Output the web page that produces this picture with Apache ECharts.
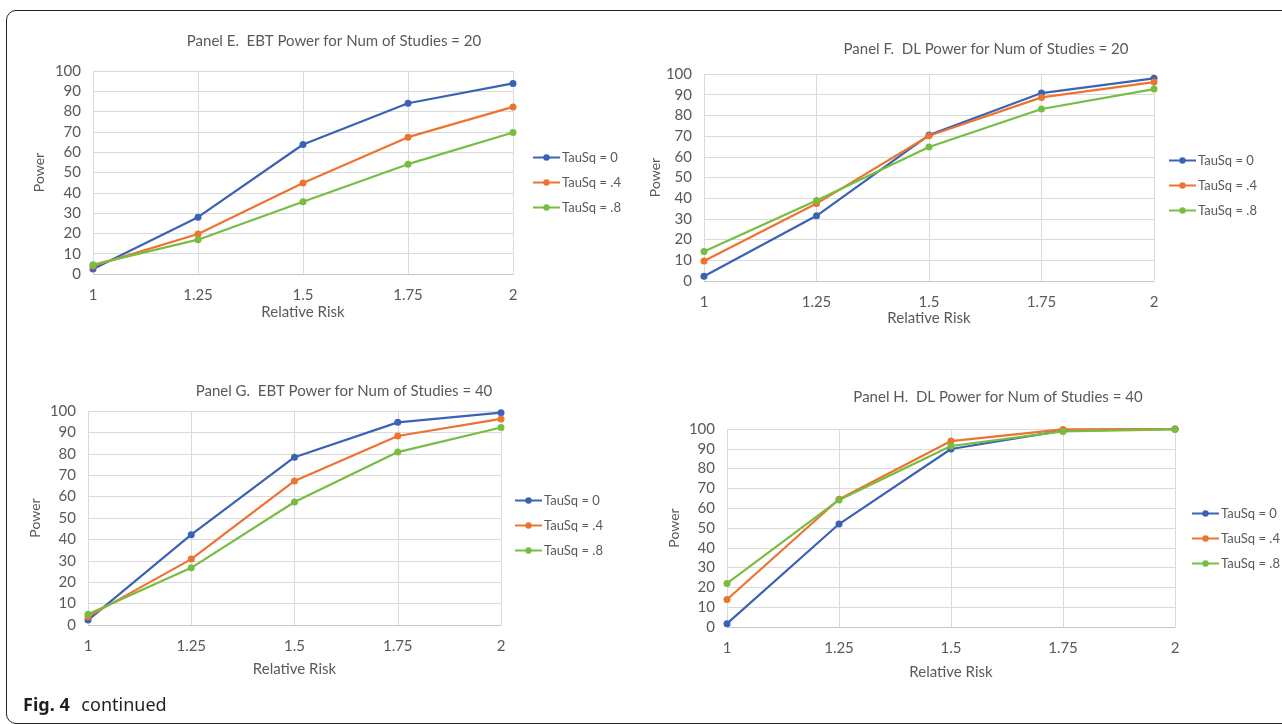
<!DOCTYPE html>
<html>
<head>
<meta charset="utf-8">
<script src="https://cdn.jsdelivr.net/npm/echarts@6/dist/echarts.min.js"></script>
<style>
  html, body { margin: 0; padding: 0; background: #fff; overflow: hidden; }
  #frame {
    position: absolute; left: 6px; top: 10px; width: 1320px; height: 714px;
    border: 1.5px solid #222; border-radius: 10px; box-sizing: border-box;
  }
  #chart { position: absolute; left: 0; top: 0; width: 1282px; height: 724px; }
  #caption {
    position: absolute; left: 23px; top: 692px; font-family: "Noto Sans", sans-serif;
    font-size: 18px; color: #231f20; line-height: 24px;
  }
  #caption b { font-weight: 700; margin-right: 7px; }
</style>
</head>
<body>
<div id="frame"></div>
<div id="chart"></div>
<div id="caption"><b>Fig. 4</b> continued</div>
<script>
// categories (relative risk) and series names
const relRisk = ['1', '1.25', '1.5', '1.75', '2'];
const seriesNames = ['TauSq = 0', 'TauSq = .4', 'TauSq = .8'];
const powerTicks = [0, 100, 10]; // min, max, step

// Panel E: EBT, 20 studies
const ebt20_tau0 = [2.5, 28.0, 63.8, 84.1, 93.9];
const ebt20_tau4 = [4.0, 19.7, 44.8, 67.4, 82.3];
const ebt20_tau8 = [4.6, 16.9, 35.6, 54.1, 69.7];
// Panel F: DL, 20 studies
const dl20_tau0 = [2.3, 31.5, 70.5, 90.8, 97.9];
const dl20_tau4 = [9.7, 37.4, 70.2, 88.7, 96.1];
const dl20_tau8 = [14.2, 38.9, 64.7, 83.1, 92.7];
// Panel G: EBT, 40 studies
const ebt40_tau0 = [2.3, 42.2, 78.4, 94.7, 99.2];
const ebt40_tau4 = [3.9, 30.8, 67.3, 88.3, 96.3];
const ebt40_tau8 = [5.0, 26.7, 57.5, 80.8, 92.3];
// Panel H: DL, 40 studies
const dl40_tau0 = [1.7, 52.0, 89.9, 99.2, 100];
const dl40_tau4 = [13.9, 64.5, 93.9, 99.8, 100];
const dl40_tau8 = [22.0, 64.2, 91.4, 98.8, 99.8];

const panelTitles = [
    'Panel E.  EBT Power for Num of Studies = 20',
    'Panel F.  DL Power for Num of Studies = 20',
    'Panel G.  EBT Power for Num of Studies = 40',
    'Panel H.  DL Power for Num of Studies = 40'
];
const panelData = [
    [ebt20_tau0, ebt20_tau4, ebt20_tau8],
    [dl20_tau0, dl20_tau4, dl20_tau8],
    [ebt40_tau0, ebt40_tau4, ebt40_tau8],
    [dl40_tau0, dl40_tau4, dl40_tau8]
];

const colors = ['#3a62b5', '#ec7430', '#78bd43'];
const textColor = '#595959';
const font = 'Lato, "Open Sans", sans-serif';

// layout of each panel (plot box, title, legend, axis name gaps)
const layout = [
    { left: 93, top: 71, width: 420, height: 203, titleX: 334, titleY: 41, legendX: 527, legendY: 146, xGap: 31, yGap: 47 },
    { left: 704, top: 74, width: 450, height: 207, titleX: 986, titleY: 49, legendX: 1163, legendY: 149, xGap: 29, yGap: 39 },
    { left: 88, top: 411, width: 413, height: 214, titleX: 344, titleY: 391, legendX: 509, legendY: 489, xGap: 37, yGap: 46 },
    { left: 727, top: 429, width: 448, height: 198, titleX: 998, titleY: 397, legendX: 1186, legendY: 502, xGap: 38, yGap: 46 }
];

const chart = echarts.init(document.getElementById('chart'));

const option = {
    animation: false,
    textStyle: { fontFamily: font },
    grid: [], xAxis: [], yAxis: [], legend: [], series: [], graphic: []
};

layout.forEach((p, i) => {
    option.grid.push({ left: p.left, top: p.top, width: p.width, height: p.height, containLabel: false });
    option.xAxis.push({
        gridIndex: i, type: 'category', data: relRisk, boundaryGap: false,
        name: 'Relative Risk', nameLocation: 'middle', nameGap: p.xGap,
        nameTextStyle: { color: textColor, fontSize: 15, fontFamily: font },
        axisLine: { lineStyle: { color: '#c8c8c8', width: 1 } },
        axisTick: { show: false },
        axisLabel: { color: textColor, fontSize: 15, margin: 14, fontFamily: font },
        splitLine: { show: true, lineStyle: { color: '#dadada', width: 1 } }
    });
    option.yAxis.push({
        gridIndex: i, type: 'value', min: powerTicks[0], max: powerTicks[1], interval: powerTicks[2],
        name: 'Power', nameLocation: 'middle', nameGap: p.yGap,
        nameTextStyle: { color: textColor, fontSize: 14, fontFamily: font },
        axisLine: { show: false }, axisTick: { show: false },
        axisLabel: { color: textColor, fontSize: 15, margin: 12, fontFamily: font },
        splitLine: { lineStyle: { color: '#dadada', width: 1 } }
    });
    option.legend.push({
        orient: 'vertical', left: p.legendX, top: p.legendY,
        data: seriesNames, itemWidth: 27, itemHeight: 8, itemGap: 12,
        selectedMode: false,
        textStyle: { color: textColor, fontSize: 13, fontFamily: font, padding: [0, 0, 0, -3] }
    });
    panelData[i].forEach((vals, k) => {
        option.series.push({
            name: seriesNames[k], type: 'line', xAxisIndex: i, yAxisIndex: i,
            data: vals, symbol: 'circle', symbolSize: 7,
            lineStyle: { width: 2.2, color: colors[k] },
            itemStyle: { color: colors[k] }
        });
    });
    option.graphic.push({
        type: 'text', x: p.titleX, y: p.titleY,
        style: { text: panelTitles[i], fill: textColor, font: '15px ' + font, align: 'center', verticalAlign: 'middle' }
    });
});

chart.setOption(option);
</script>
</body>
</html>
